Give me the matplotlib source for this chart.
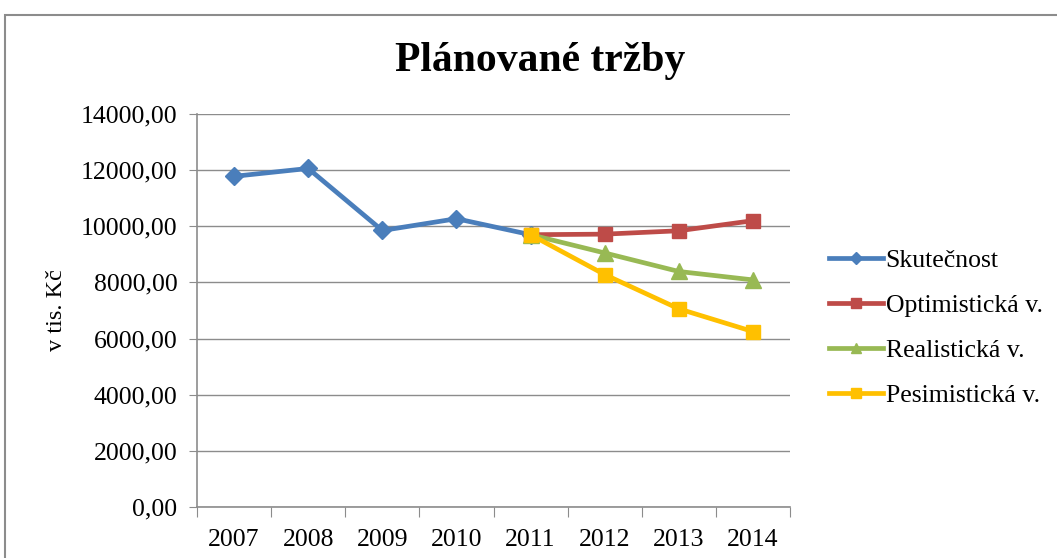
import matplotlib
matplotlib.use('Agg')
import matplotlib.pyplot as plt
from matplotlib.patches import Rectangle
from matplotlib.ticker import FuncFormatter

years = ['2007', '2008', '2009', '2010', '2011', '2012', '2013', '2014']
skutecnost = [11780, 12060, 9850, 10270, 9700]
optimisticka = [9700, 9720, 9840, 10200]
realisticka = [9700, 9050, 8390, 8090]
pesimisticka = [9700, 8280, 7060, 6250]
y_ticks = [0, 2000, 4000, 6000, 8000, 10000, 12000, 14000]

plt.rcParams['font.family'] = ['Liberation Serif', 'DejaVu Serif']

fig = plt.figure(figsize=(10.57, 5.58), dpi=100)
W, H = 1057, 558
# plot area in pixels: left 197, right 790, top 114, bottom 507
ax = fig.add_axes([197 / W, 1 - 507 / H, (790 - 197) / W, (507 - 114) / H])

# outer chart border
fig.patches.append(Rectangle((5 / W, -0.1), 1.2, 1 - 15 / H + 0.1, transform=fig.transFigure,
                             fill=False, edgecolor='#8c8c8c', linewidth=1.5))

x_all = list(range(len(years)))
x_fc = x_all[4:]
lw = 3.4
ax.plot(x_all[:len(skutecnost)], skutecnost, color='#4A7EBB', lw=lw, marker='D', ms=9,
        label='Skutečnost', zorder=3)
ax.plot(x_fc, optimisticka, color='#BE4B48', lw=lw, marker='s', ms=10,
        label='Optimistická v.', zorder=3)
ax.plot(x_fc, realisticka, color='#98B954', lw=lw, marker='^', ms=11,
        label='Realistická v.', zorder=3)
ax.plot(x_fc, pesimisticka, color='#FFC000', lw=lw, marker='s', ms=10,
        label='Pesimistická v.', zorder=4)

ax.set_xlim(-0.5, 7.5)
ax.set_ylim(0, 14000)
ax.set_yticks(y_ticks)
ax.yaxis.set_major_formatter(FuncFormatter(lambda v, p: f'{v:.2f}'.replace('.', ',')))
ax.grid(axis='y', color='#8c8c8c', lw=1)
ax.set_axisbelow(True)

ax.set_xticks([i - 0.5 for i in range(len(years) + 1)])
ax.set_xticklabels([])
ax.set_xticks(x_all, minor=True)
ax.set_xticklabels(years, minor=True, fontsize=18.5)
ax.tick_params(axis='x', which='major', length=7, color='#8c8c8c', direction='out')
ax.tick_params(axis='x', which='minor', length=0, pad=16)
ax.tick_params(axis='y', length=6, color='#8c8c8c', labelsize=18.5, pad=8)

for s in ['top', 'right']:
    ax.spines[s].set_visible(False)
for s in ['left', 'bottom']:
    ax.spines[s].set_color('#8c8c8c')
    ax.spines[s].set_linewidth(1.2)

ax.set_ylabel('v tis. Kč', fontsize=17.5, labelpad=10)
fig.text(540 / W, 1 - 61 / H, 'Plánované tržby', ha='center', va='center',
         fontsize=30, fontweight='bold')

leg = fig.legend(loc='center left', bbox_to_anchor=(806 / W, 1 - 328 / H), frameon=False,
                 fontsize=18.5, handlelength=2.1, handletextpad=0.1, labelspacing=0.85,
                 markerscale=0.7)

fig.savefig('out.png', dpi=100)
